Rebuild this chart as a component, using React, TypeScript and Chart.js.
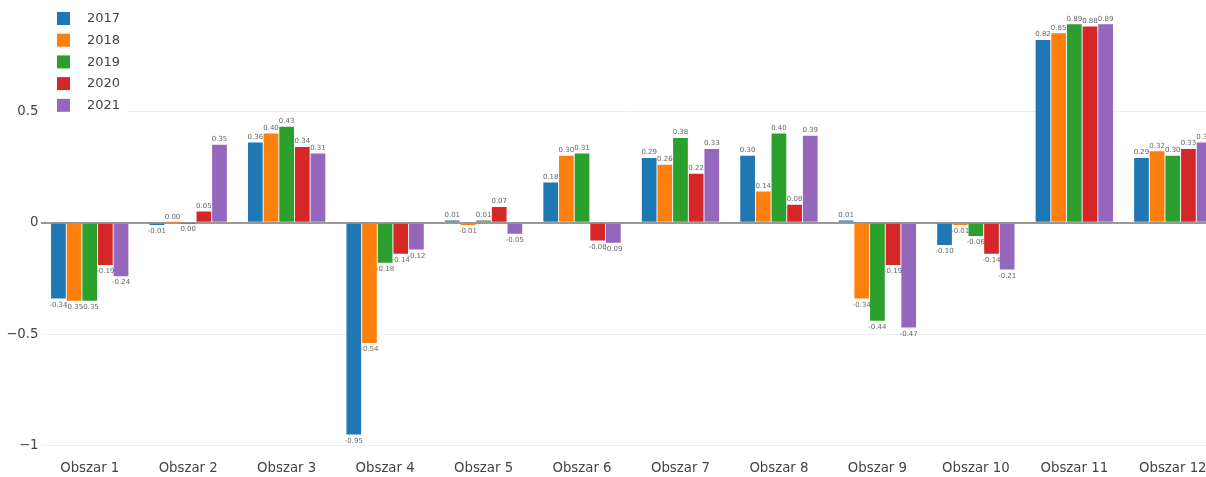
import React, { useEffect, useRef } from "react";
import { Chart, registerables } from "chart.js";

Chart.register(...registerables);

const categories = [
  "Obszar 1", "Obszar 2", "Obszar 3", "Obszar 4", "Obszar 5", "Obszar 6",
  "Obszar 7", "Obszar 8", "Obszar 9", "Obszar 10", "Obszar 11", "Obszar 12",
];
const years = ["2017", "2018", "2019", "2020", "2021"];
const colors = ["#1f77b4", "#ff7f0e", "#2ca02c", "#d62728", "#9467bd"];

const values2017 = [-0.34, -0.01, 0.36, -0.95, 0.01, 0.18, 0.29, 0.30, 0.01, -0.10, 0.82, 0.29];
const values2018 = [-0.35, 0.001, 0.40, -0.54, -0.01, 0.30, 0.26, 0.14, -0.34, -0.01, 0.85, 0.32];
const values2019 = [-0.35, -0.001, 0.43, -0.18, 0.01, 0.31, 0.38, 0.40, -0.44, -0.06, 0.89, 0.30];
const values2020 = [-0.19, 0.05, 0.34, -0.14, 0.07, -0.08, 0.22, 0.08, -0.19, -0.14, 0.88, 0.33];
const values2021 = [-0.24, 0.35, 0.31, -0.12, -0.05, -0.09, 0.33, 0.39, -0.47, -0.21, 0.89, 0.36];

const yTickValues = [-1, -0.5, 0, 0.5];

const seriesValues = [values2017, values2018, values2019, values2020, values2021];

const FONT = "'DejaVu Sans', Verdana, sans-serif";

const fmtLabel = (v: number) => (Math.abs(v) < 0.005 ? "0.00" : v.toFixed(2));
const fmtTick = (v: number) => (v < 0 ? "\u2212" + String(Math.abs(v)) : String(v));

const valueLabelsPlugin = {
  id: "valueLabels",
  afterDatasetsDraw(chart: any) {
    const ctx = chart.ctx;
    ctx.save();
    ctx.font = `7px ${FONT}`;
    ctx.fillStyle = "#666";
    ctx.textAlign = "center";
    chart.data.datasets.forEach((ds: any, di: number) => {
      const meta = chart.getDatasetMeta(di);
      meta.data.forEach((el: any, i: number) => {
        const v = ds.data[i];
        const txt = fmtLabel(v);
        if (v >= 0) {
          ctx.textBaseline = "bottom";
          ctx.fillText(txt, el.x, el.y - 2);
        } else {
          ctx.textBaseline = "top";
          ctx.fillText(txt, el.x, el.y + 3);
        }
      });
    });
    ctx.restore();
  },
};

const legendPlugin = {
  id: "customLegend",
  afterDraw(chart: any) {
    const ctx = chart.ctx;
    ctx.save();
    ctx.fillStyle = "#ffffff";
    ctx.fillRect(41, 2, 87, 115);
    ctx.font = `13px ${FONT}`;
    ctx.textBaseline = "middle";
    ctx.textAlign = "left";
    years.forEach((y, i) => {
      const cy = 18.5 + i * 21.7;
      ctx.fillStyle = colors[i];
      ctx.fillRect(57, cy - 6.5, 13, 13);
      ctx.fillStyle = "#444";
      ctx.fillText(y, 87, cy + 0.5);
    });
    ctx.restore();
  },
};

export default function App() {
  const canvasRef = useRef<HTMLCanvasElement | null>(null);

  useEffect(() => {
    document.body.style.margin = "0";
    const canvas = canvasRef.current;
    if (!canvas) return;
    const chart = new Chart(canvas, {
      type: "bar",
      data: {
        labels: categories,
        datasets: years.map((y, i) => ({
          label: y,
          data: seriesValues[i],
          backgroundColor: colors[i],
          borderWidth: 0,
          categoryPercentage: 0.795,
          barPercentage: 0.94,
        })),
      },
      options: {
        responsive: false,
        animation: false,
        layout: { padding: 0 },
        plugins: {
          legend: { display: false },
          tooltip: { enabled: false },
        },
        scales: {
          x: {
            grid: { display: false, drawTicks: false },
            border: { display: false },
            ticks: {
              color: "#444",
              font: { family: FONT, size: 13.3 },
              padding: 11,
              maxRotation: 0,
              autoSkip: false,
            },
            afterFit: (scale: any) => {
              scale.height = 27;
              scale.paddingLeft = 0;
              scale.paddingRight = 0;
            },
          },
          y: {
            min: -1.02,
            max: 0.999,
            grid: {
              drawTicks: false,
              color: (c: any) => (c.tick && c.tick.value === 0 ? "#999" : "#eeeeee"),
              lineWidth: (c: any) => (c.tick && c.tick.value === 0 ? 2 : 1),
            },
            border: { display: false },
            afterBuildTicks: (scale: any) => {
              scale.ticks = yTickValues.map((v) => ({ value: v }));
            },
            ticks: {
              color: "#444",
              font: { family: FONT, size: 13.3 },
              padding: 2,
              callback: (v: any) => fmtTick(Number(v)),
            },
            afterFit: (scale: any) => {
              scale.width = 40.5;
              scale.paddingTop = 0;
              scale.paddingBottom = 0;
            },
          },
        },
      },
      plugins: [valueLabelsPlugin, legendPlugin],
    });
    return () => chart.destroy();
  }, []);

  return (
    <div
      style={{
        position: "fixed",
        left: 0,
        top: 0,
        width: 1206,
        height: 477,
        overflow: "hidden",
        background: "#fff",
      }}
    >
      <canvas ref={canvasRef} width={1222} height={477} style={{ display: "block" }} />
    </div>
  );
}
